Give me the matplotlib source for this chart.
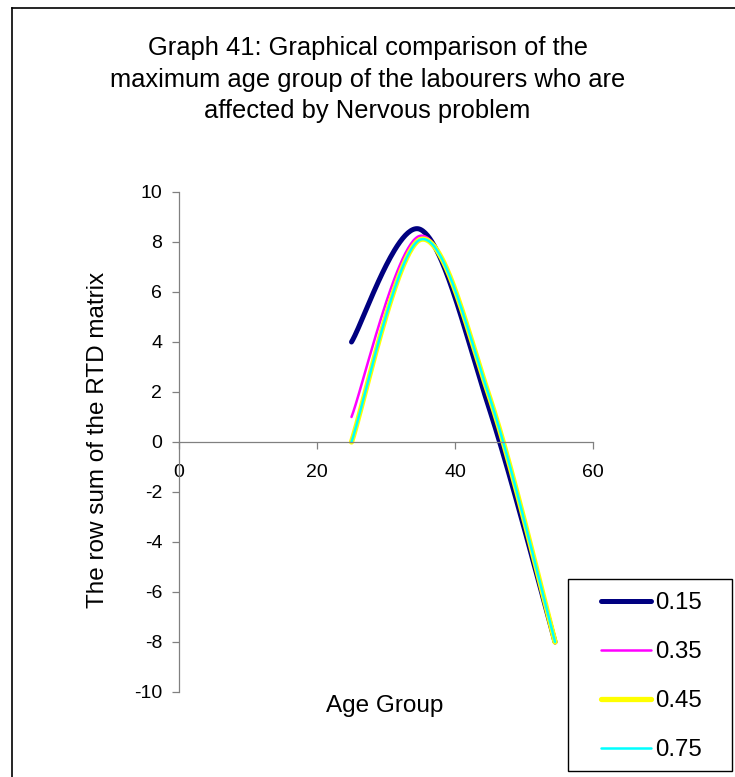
import numpy as np
import matplotlib
matplotlib.use("Agg")
import matplotlib.pyplot as plt
from matplotlib.lines import Line2D
from matplotlib.patches import Rectangle

plt.rcParams['font.family'] = ['Liberation Sans', 'DejaVu Sans']

# ---- data ----
age_group = [25, 35, 45, 54.5]
series_labels = ["0.15", "0.35", "0.45", "0.75"]
s_015 = [4.0, 8.5, 1.3, -8.0]
s_035 = [1.0, 8.25, 1.7, -8.0]
s_045 = [0.0, 8.1, 1.8, -8.0]
s_075 = [0.0, 8.1, 1.8, -8.0]
x_ticks = [0, 20, 40, 60]
y_ticks = [-10, -8, -6, -4, -2, 0, 2, 4, 6, 8, 10]

title = ("Graph 41: Graphical comparison of the\n"
         "maximum age group of the labourers who are\n"
         "affected by Nervous problem")
xlabel = "Age Group"
ylabel = "The row sum of the RTD matrix"


def excel_smooth(x, y, n=60):
    pts = np.column_stack([np.asarray(x, float), np.asarray(y, float)])
    out = []
    m = len(pts)
    for i in range(m - 1):
        p0 = pts[i - 1] if i > 0 else pts[i]
        p1 = pts[i]
        p2 = pts[i + 1]
        p3 = pts[i + 2] if i + 2 < m else pts[i + 1]
        c1 = p1 + (p2 - p0) / 6.0
        c2 = p2 - (p3 - p1) / 6.0
        t = np.linspace(0, 1, n)[:, None]
        seg = ((1 - t) ** 3) * p1 + 3 * ((1 - t) ** 2) * t * c1 \
            + 3 * (1 - t) * (t ** 2) * c2 + (t ** 3) * p2
        out.append(seg if i == 0 else seg[1:])
    c = np.vstack(out)
    return c[:, 0], c[:, 1]


W, H = 735, 777
fig = plt.figure(figsize=(W / 100, H / 100), dpi=100)
fig.patch.set_facecolor("white")

ax = fig.add_axes([179 / W, 1 - 692 / H, 414 / W, 500 / H])
ax.set_facecolor("none")

styles = [
    (s_015, "#000080", 3.6),
    (s_035, "#FF00FF", 1.8),
    (s_045, "#FFFF00", 3.8),
    (s_075, "#00FFFF", 1.8),
]
handles = []
for (vals, col, lw), lab in zip(styles, series_labels):
    xs, ys = excel_smooth(age_group, vals)
    ln, = ax.plot(xs, ys, color=col, lw=lw, solid_capstyle="round",
                  solid_joinstyle="round", label=lab)
    handles.append(ln)

ax.set_xlim(0, 60)
ax.set_ylim(-10, 10)
ax.set_xticks(x_ticks)
ax.set_yticks(y_ticks)
ax.set_xticklabels([str(v) for v in x_ticks])
ax.set_yticklabels([str(v) for v in y_ticks])

for s in ["top", "right"]:
    ax.spines[s].set_visible(False)
ax.spines["bottom"].set_position(("data", 0))
ax.spines["left"].set_position(("data", 0))
for s in ["bottom", "left"]:
    ax.spines[s].set_color("#808080")
    ax.spines[s].set_linewidth(0.9)

ax.tick_params(axis="x", direction="out", length=5, width=0.9, color="#808080",
               labelsize=14, pad=11)
ax.tick_params(axis="y", direction="out", length=5, width=0.9, color="#808080",
               labelsize=14, pad=7)

fig.text(367.5 / W, 1 - 79.5 / H, title, ha="center", va="center",
         fontsize=18.4, linespacing=1.41)
fig.text(98 / W, 1 - 440 / H, ylabel, rotation=90, ha="center", va="center",
         fontsize=17.5)
fig.text(385 / W, 1 - 706 / H, xlabel, ha="center", va="center", fontsize=17.5)

leg = fig.legend(handles=handles, labels=series_labels, loc="upper left",
                 bbox_to_anchor=(601 / W, 1 - 592 / H), frameon=False,
                 borderpad=0, borderaxespad=0, fontsize=17.3,
                 handlelength=2.1, handletextpad=0.17, labelspacing=1.13)

fig.add_artist(Rectangle((568 / W, 1 - 771 / H), 164 / W, 192 / H,
                         transform=fig.transFigure, fill=False,
                         edgecolor="black", lw=1))

fig.add_artist(Line2D([12 / W, 12 / W], [0, 1 - 8 / H], transform=fig.transFigure,
                      color="black", lw=1.2))
fig.add_artist(Line2D([12 / W, 1], [1 - 8 / H, 1 - 8 / H], transform=fig.transFigure,
                      color="black", lw=1.2))

fig.savefig("out.png", dpi=100)
